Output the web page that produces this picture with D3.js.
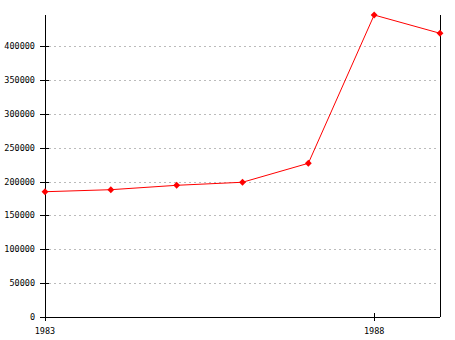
<!DOCTYPE html>
<html>
<head>
<meta charset="utf-8">
<script src="https://cdn.jsdelivr.net/npm/d3@7"></script>
<style>
  body { margin: 0; background: #fff; }
  text { font-family: "DejaVu Sans Mono", monospace; font-size: 8.5px; fill: #000; }
</style>
</head>
<body>
<svg width="455" height="340"></svg>
<script>
const years = [1983, 1984, 1985, 1986, 1987, 1988, 1989];
const values = [185000, 188000, 194500, 199000, 227000, 446000, 419000];
const yTicks = [0, 50000, 100000, 150000, 200000, 250000, 300000, 350000, 400000];
const xTicks = [1983, 1988];

const svg = d3.select("svg");
const mLeft = 45, mRight = 440, mTop = 15, mBottom = 317;

const x = d3.scaleLinear().domain([1983, 1989]).range([mLeft, mRight]);
const y = d3.scaleLinear().domain([0, d3.max(values)]).range([mBottom, mTop]);

// grid
svg.append("g").selectAll("line").data(yTicks.filter(d => d > 0)).join("line")
  .attr("x1", mLeft + 4).attr("x2", mRight - 4)
  .attr("y1", d => Math.round(y(d)) + .5).attr("y2", d => Math.round(y(d)) + .5)
  .attr("stroke", "#bbb").attr("stroke-dasharray", "2,3");

// axes frame
const axis = svg.append("g").attr("stroke", "#000").attr("shape-rendering", "crispEdges");
axis.append("line").attr("x1", mLeft).attr("x2", mLeft).attr("y1", mTop).attr("y2", mBottom + 4);
axis.append("line").attr("x1", mRight).attr("x2", mRight).attr("y1", mTop).attr("y2", mBottom);
axis.append("line").attr("x1", mLeft).attr("x2", mRight).attr("y1", mBottom).attr("y2", mBottom);

axis.selectAll(".yt").data(yTicks).join("line")
  .attr("x1", mLeft - 5).attr("x2", mLeft + 4)
  .attr("y1", d => Math.round(y(d))).attr("y2", d => Math.round(y(d)));
axis.selectAll(".xt").data(xTicks).join("line")
  .attr("x1", d => Math.round(x(d))).attr("x2", d => Math.round(x(d)))
  .attr("y1", mBottom - 4).attr("y2", mBottom + 4);

svg.append("g").selectAll("text").data(yTicks).join("text")
  .attr("x", mLeft - 10).attr("y", d => y(d) + 3)
  .attr("text-anchor", "end")
  .text(d => d);
svg.append("g").selectAll("text").data(xTicks).join("text")
  .attr("x", d => x(d)).attr("y", 334)
  .attr("text-anchor", "middle")
  .text(d => d);

// series
const pts = years.map((d, i) => [d, values[i]]);
svg.append("path")
  .attr("d", d3.line().x(d => x(d[0])).y(d => y(d[1]))(pts))
  .attr("fill", "none").attr("stroke", "red").attr("stroke-width", 1);
svg.append("g").selectAll("path").data(pts).join("path")
  .attr("transform", d => `translate(${x(d[0])},${y(d[1])})`)
  .attr("d", d3.symbol(d3.symbolDiamond2, 30))
  .attr("fill", "red");
</script>
</body>
</html>
